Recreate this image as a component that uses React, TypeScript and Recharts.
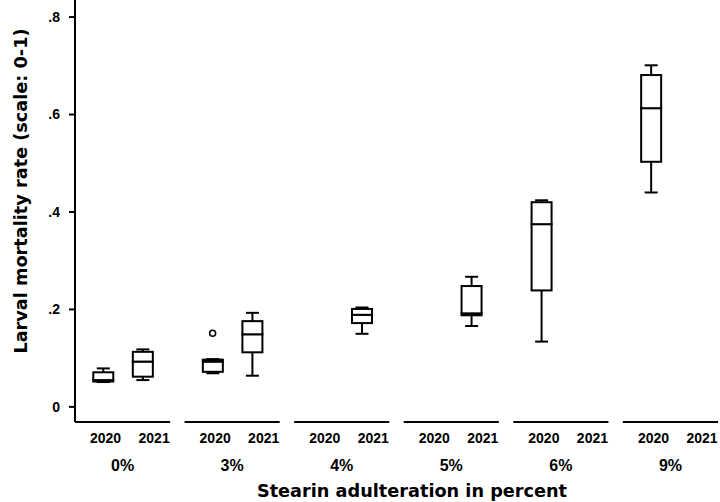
import React from "react";
import {
  ComposedChart,
  Bar,
  Scatter,
  XAxis,
  YAxis,
  ReferenceLine,
  Customized,
} from "recharts";

const groups = ["0%", "3%", "4%", "5%", "6%", "9%"];
const years = ["2020", "2021"];
const yTicks = [0, 0.2, 0.4, 0.6, 0.8];

// one entry per drawn box (group index, year index, five-number summary)
const boxGroup = [0, 0, 1, 1, 2, 3, 4, 5];
const boxYear = [0, 1, 0, 1, 1, 1, 0, 0];
const boxMin = [0.051, 0.055, 0.069, 0.064, 0.15, 0.166, 0.134, 0.44];
const boxQ1 = [0.052, 0.062, 0.072, 0.112, 0.172, 0.188, 0.239, 0.503];
const boxMedian = [0.055, 0.093, 0.093, 0.149, 0.189, 0.192, 0.375, 0.613];
const boxQ3 = [0.071, 0.113, 0.097, 0.176, 0.201, 0.248, 0.42, 0.681];
const boxMax = [0.079, 0.118, 0.098, 0.193, 0.204, 0.267, 0.424, 0.701];

const outlierGroup = [1];
const outlierYear = [0];
const outlierValue = [0.151];

// x axis is in "group" units: each group starts at its index
const GROUP_W = 0.868;
const X_DOMAIN = [0, groups.length - 1 + GROUP_W];
const Y_DOMAIN = [-0.031, 0.835];
const center = (g: number) => g + GROUP_W / 2;
const boxX = (g: number, y: number) => center(g) + (y === 0 ? -0.178 : 0.183);
const labelX = (g: number, y: number) => center(g) + (y === 0 ? -0.155 : 0.288);

const rows = boxGroup.map((g, i) => ({
  x: boxX(g, boxYear[i]),
  base: boxMin[i],
  lowW: boxQ1[i] - boxMin[i],
  lowBox: boxMedian[i] - boxQ1[i],
  upBox: boxQ3[i] - boxMedian[i],
  upW: boxMax[i] - boxQ3[i],
}));

const outliers = outlierGroup.map((g, i) => ({
  x: boxX(g, outlierYear[i]),
  y: outlierValue[i],
}));

const yearTicks = groups.flatMap((_, g) => years.map((__, y) => labelX(g, y)));
const groupTicks = groups.map((_, g) => center(g));

const FONT = "'Liberation Sans', Arial, Helvetica, sans-serif";
const TITLE_FONT = "'DejaVu Sans', Verdana, sans-serif";
const NARROW_FONT = "'Liberation Sans Narrow', 'Arial Narrow', 'Liberation Sans', sans-serif";
const CAP = 13;

const norm = (p: any) => {
  const top = Math.min(p.y, p.y + p.height);
  return { top, h: Math.abs(p.height), cx: p.x + p.width / 2 };
};

const whisker = (upper: boolean) => (p: any) => {
  const { top, h, cx } = norm(p);
  const capY = upper ? top : top + h;
  return (
    <g stroke="#000" strokeWidth={2}>
      <line x1={cx} x2={cx} y1={top} y2={top + h} />
      <line x1={cx - CAP / 2} x2={cx + CAP / 2} y1={capY} y2={capY} />
    </g>
  );
};

const boxPart = (p: any) => {
  const { top, h } = norm(p);
  return (
    <rect x={p.x} y={top} width={p.width} height={h} fill="#fff" stroke="#000" strokeWidth={2} />
  );
};

const Titles = () => (
  <g fontFamily={TITLE_FONT} fontWeight="bold" fill="#000" fontSize={17.7}>
    <text x={412} y={497} textAnchor="middle">
      Stearin adulteration in percent
    </text>
    <text transform="translate(27,191) rotate(-90)" textAnchor="middle">
      Larval mortality rate (scale: 0-1)
    </text>
  </g>
);

export default function App() {
  return (
    <div
      style={{
        position: "absolute",
        left: 0,
        top: 0,
        width: 720,
        height: 502,
        background: "#fff",
        fontFamily: FONT,
      }}
    >
      <ComposedChart
        width={720}
        height={502}
        data={rows}
        margin={{ top: 0, right: 2, bottom: 0, left: 0 }}
      >
        <XAxis
          xAxisId="b"
          dataKey="x"
          type="number"
          domain={X_DOMAIN}
          allowDataOverflow
          ticks={groupTicks}
          interval={0}
          tickFormatter={(_v: number, i: number) => groups[i]}
          axisLine={false}
          tickLine={false}
          tickSize={0}
          tickMargin={8}
          height={50}
          tick={{ fill: "#000", fontSize: 16, fontWeight: "bold", fontFamily: NARROW_FONT }}
        />
        <XAxis
          xAxisId="a"
          dataKey="x"
          type="number"
          domain={X_DOMAIN}
          allowDataOverflow
          ticks={yearTicks}
          interval={0}
          tickFormatter={(_v: number, i: number) => years[i % 2]}
          axisLine={false}
          tickLine={false}
          tickSize={0}
          tickMargin={11}
          height={30}
          tick={{ fill: "#000", fontSize: 14, fontWeight: "bold" }}
        />
        <YAxis
          type="number"
          domain={Y_DOMAIN}
          allowDataOverflow
          ticks={yTicks}
          interval={0}
          width={75}
          tickFormatter={(v: number) => (v === 0 ? "0" : v.toFixed(1).replace(/^0/, ""))}
          axisLine={{ stroke: "#000", strokeWidth: 2 }}
          tickLine={{ stroke: "#000", strokeWidth: 2 }}
          tickSize={6}
          tickMargin={9}
          tick={{ fill: "#000", fontSize: 14, fontWeight: "bold" }}
        />
        {groups.map((_, g) => (
          <ReferenceLine
            key={g}
            xAxisId="a"
            segment={[
              { x: g, y: Y_DOMAIN[0] },
              { x: g + GROUP_W, y: Y_DOMAIN[0] },
            ]}
            stroke="#000"
            strokeWidth={2}
            ifOverflow="visible"
          />
        ))}
        <Bar xAxisId="a" dataKey="base" stackId="b" barSize={20} shape={() => <g />} isAnimationActive={false} />
        <Bar xAxisId="a" dataKey="lowW" stackId="b" barSize={20} shape={whisker(false)} isAnimationActive={false} />
        <Bar xAxisId="a" dataKey="lowBox" stackId="b" barSize={20} shape={boxPart} isAnimationActive={false} />
        <Bar xAxisId="a" dataKey="upBox" stackId="b" barSize={20} shape={boxPart} isAnimationActive={false} />
        <Bar xAxisId="a" dataKey="upW" stackId="b" barSize={20} shape={whisker(true)} isAnimationActive={false} />
        <Scatter
          xAxisId="a"
          data={outliers}
          dataKey="y"
          isAnimationActive={false}
          shape={(p: any) => (
            <circle cx={p.cx} cy={p.cy} r={3} fill="#fff" stroke="#000" strokeWidth={1.6} />
          )}
        />
        <Customized component={Titles} />
      </ComposedChart>
    </div>
  );
}
